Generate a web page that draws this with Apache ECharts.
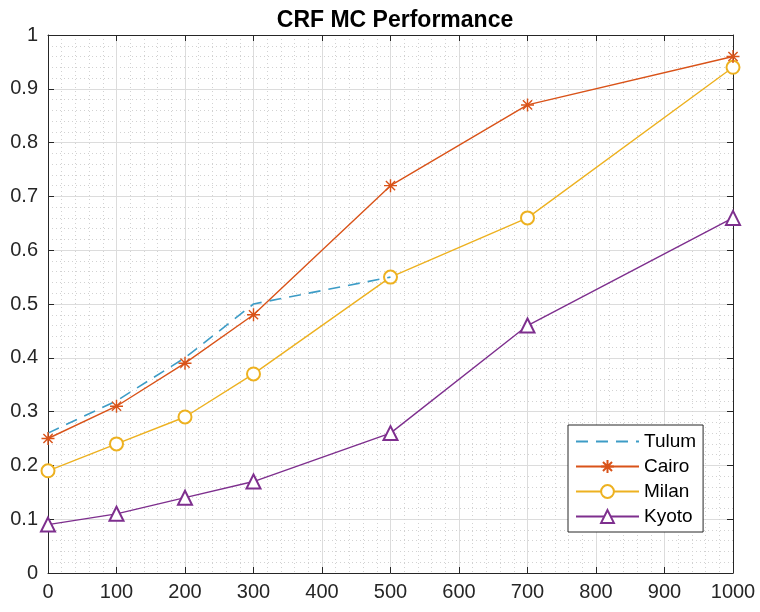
<!DOCTYPE html>
<html>
<head>
<meta charset="utf-8">
<script src="https://cdn.jsdelivr.net/npm/echarts@6/dist/echarts.min.js"></script>
<style>
  html, body { margin: 0; padding: 0; background: #ffffff; }
  #chart { width: 760px; height: 612px; }
</style>
</head>
<body>
<div id="chart"></div>
<script>
// Sample counts along the x axis
const xValues = [0, 100, 200, 300, 500, 700, 1000];

// Performance per city
const tulum = [0.26, 0.32, 0.40, 0.50, 0.55];
const cairo = [0.25, 0.31, 0.39, 0.48, 0.72, 0.87, 0.96];
const milan = [0.19, 0.24, 0.29, 0.37, 0.55, 0.66, 0.94];
const kyoto = [0.09, 0.11, 0.14, 0.17, 0.26, 0.46, 0.66];

const titleText = 'CRF MC Performance';
const seriesNames = ['Tulum', 'Cairo', 'Milan', 'Kyoto'];

const pairs = (vals) => vals.map((v, i) => [xValues[i], v]);

const FONT = '"Liberation Sans", Arial, Helvetica, sans-serif';
const AXIS_COLOR = '#262626';
const CLEAR = 'rgba(0,0,0,0)';

// Asterisk marker (vertical, horizontal and two diagonals)
const asterisk = 'path://M10,0L10,20M0,10L20,10M2.93,2.93L17.07,17.07M2.93,17.07L17.07,2.93';

const chart = echarts.init(document.getElementById('chart'), null, { renderer: 'canvas' });

const baseX = {
  type: 'value', min: 0, max: 1000, interval: 100,
  axisLine: { show: true, onZero: false, lineStyle: { color: AXIS_COLOR, width: 1 } },
  axisTick: { show: true, inside: true, length: 6, lineStyle: { color: AXIS_COLOR } }
};
const baseY = {
  type: 'value', min: 0, max: 1, interval: 0.1,
  axisLine: { show: true, onZero: false, lineStyle: { color: AXIS_COLOR, width: 1 } },
  axisTick: { show: true, inside: true, length: 6, lineStyle: { color: AXIS_COLOR } }
};

const option = {
  backgroundColor: '#ffffff',
  animation: false,
  title: {
    text: titleText,
    left: 390, top: 4, textAlign: 'center',
    textStyle: { fontFamily: FONT, fontSize: 23, fontWeight: 'bold', color: '#000000' }
  },
  grid: { left: 48, right: 27, top: 35, bottom: 39, containLabel: false },
  legend: {
    orient: 'vertical',
    left: 568, top: 425,
    data: [
      // dashed line only, no marker
      { name: seriesNames[0], itemStyle: { color: CLEAR, borderColor: CLEAR, borderWidth: 0 } },
      { name: seriesNames[1] },
      { name: seriesNames[2] },
      { name: seriesNames[3] }
    ],
    backgroundColor: '#ffffff',
    borderColor: AXIS_COLOR, borderWidth: 1,
    padding: [7, 7, 6, 7],
    itemWidth: 63, itemHeight: 16, itemGap: 6,
    textStyle: { fontFamily: FONT, fontSize: 19, color: '#000000' }
  },
  xAxis: [
    Object.assign({}, baseX, {
      position: 'bottom',
      axisLabel: {
        show: true, margin: 9, fontFamily: FONT, fontSize: 20, color: AXIS_COLOR,
        formatter: (v) => String(v)
      },
      splitLine: { show: true, lineStyle: { color: '#dcdcdc', width: 1 } },
      minorTick: { show: false, splitNumber: 5 },
      minorSplitLine: { show: true, lineStyle: { color: '#d2d2d2', width: 1, type: [1, 3] } }
    }),
    Object.assign({}, baseX, {
      position: 'top',
      axisLabel: { show: false },
      splitLine: { show: false }
    })
  ],
  yAxis: [
    Object.assign({}, baseY, {
      position: 'left',
      axisLabel: {
        show: true, margin: 10, fontFamily: FONT, fontSize: 20, color: AXIS_COLOR,
        formatter: (v) => String(Math.round(v * 10) / 10)
      },
      splitLine: { show: true, lineStyle: { color: '#dcdcdc', width: 1 } },
      minorTick: { show: false, splitNumber: 5 },
      minorSplitLine: { show: true, lineStyle: { color: '#d2d2d2', width: 1, type: [1, 3] } }
    }),
    Object.assign({}, baseY, {
      position: 'right',
      axisLabel: { show: false },
      splitLine: { show: false }
    })
  ],
  series: [
    {
      name: 'Tulum', type: 'line', data: pairs(tulum),
      symbol: 'none',
      lineStyle: { color: '#3d9cc6', width: 1.6, type: [12, 8] },
      itemStyle: { color: '#3d9cc6' },
      z: 3
    },
    {
      name: 'Cairo', type: 'line', data: pairs(cairo),
      symbol: asterisk, symbolSize: 13, showAllSymbol: true,
      lineStyle: { color: '#d95319', width: 1.4 },
      itemStyle: { color: CLEAR, borderColor: '#d95319', borderWidth: 1.4 },
      z: 4
    },
    {
      name: 'Milan', type: 'line', data: pairs(milan),
      symbol: 'emptyCircle', symbolSize: 13, showAllSymbol: true,
      lineStyle: { color: '#edb120', width: 1.4 },
      itemStyle: { color: '#edb120', borderColor: '#edb120', borderWidth: 1.4 },
      z: 2
    },
    {
      name: 'Kyoto', type: 'line', data: pairs(kyoto),
      symbol: 'emptyTriangle', symbolSize: 14, showAllSymbol: true,
      lineStyle: { color: '#7e2f8e', width: 1.4 },
      itemStyle: { color: '#7e2f8e', borderColor: '#7e2f8e', borderWidth: 1.4 },
      z: 2
    }
  ]
};

chart.setOption(option);
</script>
</body>
</html>
